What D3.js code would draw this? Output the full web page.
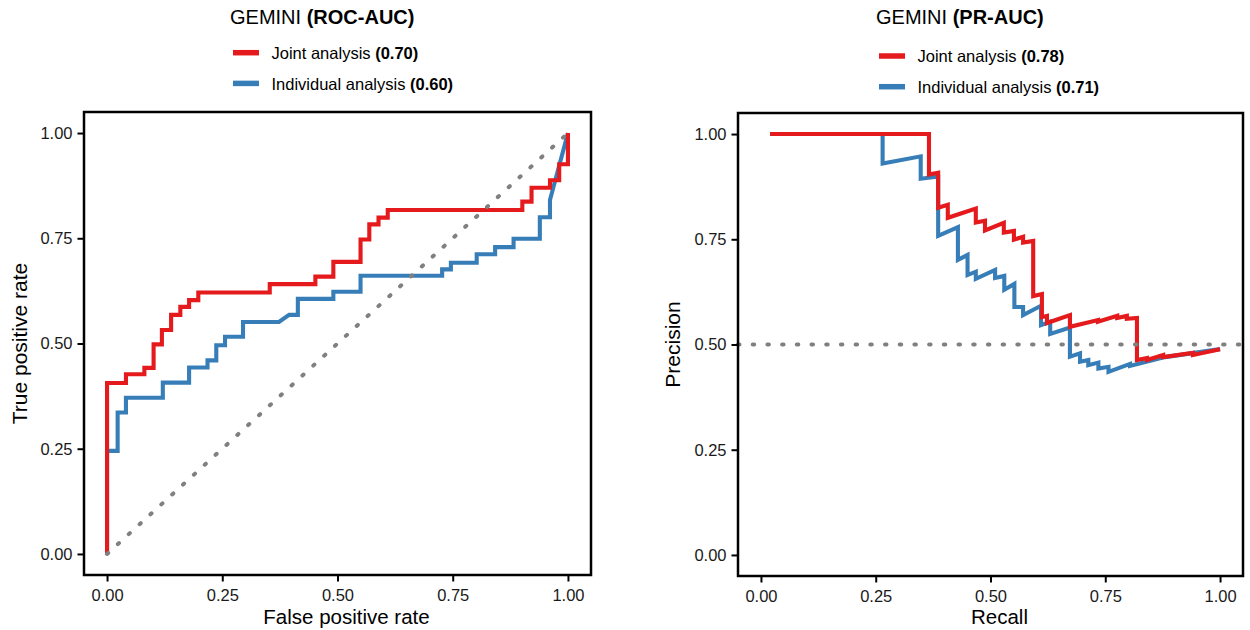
<!DOCTYPE html>
<html>
<head>
<meta charset="utf-8">
<script src="https://cdn.jsdelivr.net/npm/d3@7"></script>
<style>
  body { margin: 0; background: #fff; }
  svg { display: block; font-family: "Liberation Sans", Arial, Helvetica, sans-serif; }
</style>
</head>
<body>
<svg id="chart" width="1250" height="630"></svg>
<script>
// ---- data -------------------------------------------------------------
const axisTicks = [0, 0.25, 0.5, 0.75, 1];

const seriesNames = ["Joint analysis", "Individual analysis"];
const seriesColors = ["#E41A1C", "#377EB8"];
const rocAuc = ["0.70", "0.60"];
const prAuc = ["0.78", "0.71"];

// ROC curve vertices, joint analysis
const rocJointFpr = [0, 0, 0.041, 0.041, 0.081, 0.081, 0.101, 0.101, 0.119, 0.119, 0.139, 0.139,
  0.159, 0.159, 0.178, 0.178, 0.198, 0.198, 0.353, 0.353, 0.452, 0.452, 0.491, 0.491, 0.550, 0.550,
  0.569, 0.569, 0.589, 0.589, 0.609, 0.609, 0.901, 0.901, 0.921, 0.921, 0.961, 0.961, 0.981, 0.981, 1, 1];
const rocJointTpr = [0, 0.406, 0.406, 0.427, 0.427, 0.442, 0.442, 0.498, 0.498, 0.532, 0.532, 0.568,
  0.568, 0.587, 0.587, 0.603, 0.603, 0.621, 0.621, 0.641, 0.641, 0.659, 0.659, 0.694, 0.694, 0.747,
  0.747, 0.783, 0.783, 0.799, 0.799, 0.817, 0.817, 0.837, 0.837, 0.870, 0.870, 0.888, 0.888, 0.926, 0.926, 1];

// ROC curve vertices, individual analysis
const rocIndivFpr = [0, 0, 0.023, 0.023, 0.041, 0.041, 0.121, 0.121, 0.178, 0.178, 0.218, 0.218,
  0.237, 0.237, 0.256, 0.256, 0.295, 0.295, 0.373, 0.395, 0.414, 0.414, 0.491, 0.491, 0.550, 0.550,
  0.727, 0.727, 0.746, 0.746, 0.802, 0.802, 0.842, 0.842, 0.882, 0.882, 0.939, 0.939, 0.961, 0.961, 1];
const rocIndivTpr = [0, 0.245, 0.245, 0.336, 0.336, 0.371, 0.371, 0.407, 0.407, 0.443, 0.443, 0.460,
  0.460, 0.496, 0.496, 0.516, 0.516, 0.551, 0.551, 0.568, 0.568, 0.606, 0.606, 0.623, 0.623, 0.661,
  0.661, 0.676, 0.676, 0.692, 0.692, 0.712, 0.712, 0.729, 0.729, 0.749, 0.749, 0.800, 0.800, 0.841, 1];

// Precision-recall vertices, joint analysis
const prJointRecall = [0.020, 0.366, 0.366, 0.386, 0.386, 0.407, 0.407, 0.468, 0.468, 0.488, 0.488,
  0.529, 0.529, 0.551, 0.551, 0.571, 0.571, 0.593, 0.593, 0.612, 0.612, 0.623, 0.623, 0.673, 0.673,
  0.734, 0.734, 0.776, 0.776, 0.797, 0.797, 0.819, 0.819, 0.841, 0.841, 0.876, 0.876, 0.941, 0.941, 1];
const prJointPrecision = [1, 1, 0.904, 0.908, 0.825, 0.832, 0.801, 0.823, 0.790, 0.794, 0.771,
  0.789, 0.766, 0.770, 0.749, 0.756, 0.742, 0.746, 0.615, 0.620, 0.565, 0.568, 0.551, 0.570, 0.542,
  0.558, 0.554, 0.568, 0.563, 0.568, 0.561, 0.563, 0.463, 0.468, 0.463, 0.475, 0.470, 0.480, 0.475, 0.489];

// Precision-recall vertices, individual analysis
const prIndivRecall = [0.020, 0.265, 0.265, 0.348, 0.348, 0.386, 0.386, 0.429, 0.429, 0.450, 0.450,
  0.468, 0.468, 0.510, 0.510, 0.530, 0.530, 0.552, 0.552, 0.571, 0.571, 0.610, 0.610, 0.630, 0.630,
  0.673, 0.673, 0.695, 0.695, 0.713, 0.713, 0.735, 0.735, 0.757, 0.757, 0.804, 0.804, 0.880, 1];
const prIndivPrecision = [1, 1, 0.930, 0.947, 0.894, 0.899, 0.758, 0.779, 0.701, 0.713, 0.665,
  0.673, 0.656, 0.677, 0.658, 0.663, 0.630, 0.644, 0.589, 0.589, 0.570, 0.592, 0.546, 0.554, 0.525,
  0.540, 0.471, 0.479, 0.459, 0.463, 0.451, 0.457, 0.443, 0.447, 0.435, 0.454, 0.449, 0.470, 0.489];

const prBaseline = 0.5;

// ---- drawing ----------------------------------------------------------
const svg = d3.select("#chart");
svg.append("rect").attr("width", 1250).attr("height", 630).attr("fill", "#fff");

const zip = (xs, ys) => xs.map((x, i) => [x, ys[i]]);

function drawPanel(cfg) {
  const x = d3.scaleLinear().domain([-0.05, 1.05]).range([cfg.left, cfg.right]);
  const y = d3.scaleLinear().domain([-0.05, 1.05]).range([cfg.bottom, cfg.top]);
  const g = svg.append("g");

  const line = d3.line().x(d => x(d[0])).y(d => y(d[1]));

  // curves: individual first, joint on top
  [1, 0].forEach(i => {
    g.append("path")
      .datum(cfg.series[i])
      .attr("d", line)
      .attr("fill", "none")
      .attr("stroke", seriesColors[i])
      .attr("stroke-width", 4.1)
      .attr("stroke-linejoin", "miter");
  });

  // dotted reference line
  g.append("path")
    .datum(cfg.reference)
    .attr("d", line)
    .attr("fill", "none")
    .attr("stroke", "#808080")
    .attr("stroke-width", 4)
    .attr("stroke-linecap", "round")
    .attr("stroke-dasharray", "1.5 13.2");

  // panel frame
  g.append("rect")
    .attr("x", cfg.left).attr("y", cfg.top)
    .attr("width", cfg.right - cfg.left).attr("height", cfg.bottom - cfg.top)
    .attr("fill", "none").attr("stroke", "#000").attr("stroke-width", 2.5);

  const fmt = d3.format(".2f");
  const gx = g.append("g")
    .attr("transform", `translate(0,${cfg.bottom})`)
    .call(d3.axisBottom(x).tickValues(axisTicks).tickFormat(fmt).tickSize(6.5).tickPadding(7.8));
  const gy = g.append("g")
    .attr("transform", `translate(${cfg.left},0)`)
    .call(d3.axisLeft(y).tickValues(axisTicks).tickFormat(fmt).tickSize(6.5).tickPadding(5));
  [gx, gy].forEach(a => {
    a.select(".domain").remove();
    a.selectAll(".tick line").attr("stroke", "#000").attr("stroke-width", 2);
    a.selectAll(".tick text")
      .attr("fill", "#1a1a1a")
      .style("font-size", "16.5px")
      .style("font-family", "\"Liberation Sans\", Arial, Helvetica, sans-serif");
  });

  // axis titles
  g.append("text")
    .attr("x", (cfg.left + cfg.right) / 2 + 9).attr("y", 624)
    .attr("text-anchor", "middle").attr("fill", "#000")
    .style("font-size", "20.5px")
    .text(cfg.xTitle);
  g.append("text")
    .attr("transform", `translate(${cfg.yTitleX},${(cfg.top + cfg.bottom) / 2}) rotate(-90)`)
    .attr("text-anchor", "middle").attr("fill", "#000")
    .style("font-size", "21px")
    .text(cfg.yTitle);

  // title
  const t = g.append("text")
    .attr("x", cfg.titleX).attr("y", 24)
    .attr("fill", "#000").style("font-size", "20px");
  t.append("tspan").text("GEMINI ");
  t.append("tspan").attr("font-weight", "bold").text(cfg.titleTag);

  // legend
  seriesNames.forEach((name, i) => {
    const ly = cfg.legendY + i * 30.7;
    g.append("line")
      .attr("x1", cfg.titleX + 3).attr("x2", cfg.titleX + 29)
      .attr("y1", ly).attr("y2", ly)
      .attr("stroke", seriesColors[i]).attr("stroke-width", 5.5);
    const lt = g.append("text")
      .attr("x", cfg.titleX + 41.5).attr("y", ly + 6.4)
      .attr("fill", "#000").style("font-size", "16.5px");
    lt.append("tspan").text(name + " ");
    lt.append("tspan").attr("font-weight", "bold").text(`(${cfg.auc[i]})`);
  });
}

drawPanel({
  left: 84, right: 591, top: 112, bottom: 575,
  series: [zip(rocJointFpr, rocJointTpr), zip(rocIndivFpr, rocIndivTpr)],
  reference: [[0, 0], [1, 1]],
  xTitle: "False positive rate", yTitle: "True positive rate", yTitleX: 26.5,
  titleX: 230, titleTag: "(ROC-AUC)", legendY: 52.7, auc: rocAuc
});

drawPanel({
  left: 738, right: 1243, top: 113, bottom: 576,
  series: [zip(prJointRecall, prJointPrecision), zip(prIndivRecall, prIndivPrecision)],
  reference: [[-0.05, prBaseline], [1.05, prBaseline]],
  xTitle: "Recall", yTitle: "Precision", yTitleX: 680,
  titleX: 876, titleTag: "(PR-AUC)", legendY: 56, auc: prAuc
});
</script>
</body>
</html>
